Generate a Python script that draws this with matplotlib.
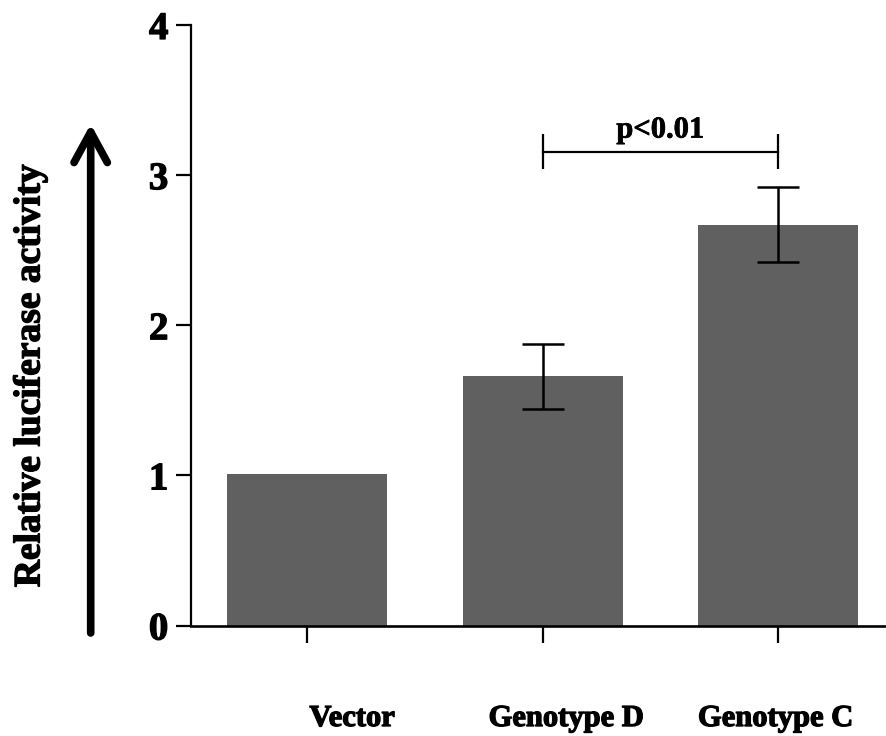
import matplotlib
matplotlib.use('Agg')
import matplotlib.pyplot as plt
import matplotlib.patheffects as pe

categories = ['Vector', 'Genotype D', 'Genotype C']
values = [1.01, 1.66, 2.67]
errors = [0.0, 0.215, 0.25]
yticks = [0, 1, 2, 3, 4]
ylabel = 'Relative luciferase activity'
sig_pair = (1, 2)
sig_text = 'p<0.01'
sig_y = 3.157
label_dx = [0.19, 0.10, -0.01]

plt.rcParams['font.family'] = ['Liberation Serif', 'DejaVu Serif']
plt.rcParams['font.weight'] = 'bold'

heavy = [pe.withStroke(linewidth=0.9, foreground='black')]

W, H = 886, 736
fig = plt.figure(figsize=(W / 100, H / 100), dpi=100)
ax = fig.add_axes([191 / W, 1 - 625.5 / H, 1 - 191 / W, (625.5 - 25) / H])

x = list(range(len(categories)))
ax.bar(x, values, width=0.68, color='#606060', zorder=2)
for xi, v, e in zip(x, values, errors):
    if e > 0:
        ax.errorbar(xi, v, yerr=e, fmt='none', ecolor='black', elinewidth=1.8,
                    capsize=14.8, capthick=1.8, zorder=3)

ax.set_xlim(-0.495, 2.46)
ax.set_ylim(0, 4)
ax.set_yticks(yticks)
ax.set_yticklabels([str(t) for t in yticks], fontsize=28, fontweight='bold')
for t in ax.get_yticklabels():
    t.set_path_effects(heavy)
ax.set_xticks(x)
ax.set_xticklabels([])
ax.tick_params(axis='y', length=10.8, width=1.6, pad=5.5, direction='out')
ax.tick_params(axis='x', length=12.5, width=1.6, direction='out')
for s in ['top', 'right']:
    ax.spines[s].set_visible(False)
ax.spines['left'].set_linewidth(1.6)
ax.spines['bottom'].set_linewidth(1.9)

trans = ax.get_xaxis_transform()
for xi, lab, dx in zip(x, categories, label_dx):
    ax.text(xi + dx, -0.1674, lab, transform=trans, ha='center', va='baseline',
            fontsize=22, fontweight='bold', clip_on=False, path_effects=heavy)

# significance bracket
a, b = sig_pair
ax.plot([a, b], [sig_y, sig_y], color='black', lw=1.6, zorder=3, clip_on=False)
ax.errorbar([a, b], [sig_y, sig_y], yerr=0.117, fmt='none', ecolor='black',
            elinewidth=1.6, capsize=0, zorder=3)
ax.text((a + b) / 2, 3.25, sig_text, ha='center', va='baseline', fontsize=22,
        fontweight='bold', path_effects=[pe.withStroke(linewidth=0.5, foreground='black')])

# y label and arrow
fig.text(30 / W, 1 - 376 / H, ylabel, rotation=90, ha='center', va='center',
         fontsize=27, fontweight='bold', path_effects=heavy)
ax.annotate('', xy=(90.7 / W, 1 - 124 / H), xytext=(90.7 / W, 1 - 633 / H),
            xycoords='figure fraction', textcoords='figure fraction',
            arrowprops=dict(arrowstyle='->,head_length=1.1,head_width=0.6', lw=5.5,
                            color='black', shrinkA=0, shrinkB=0, mutation_scale=20,
                            capstyle='round', joinstyle='round'))

fig.savefig('out.png', dpi=100)
